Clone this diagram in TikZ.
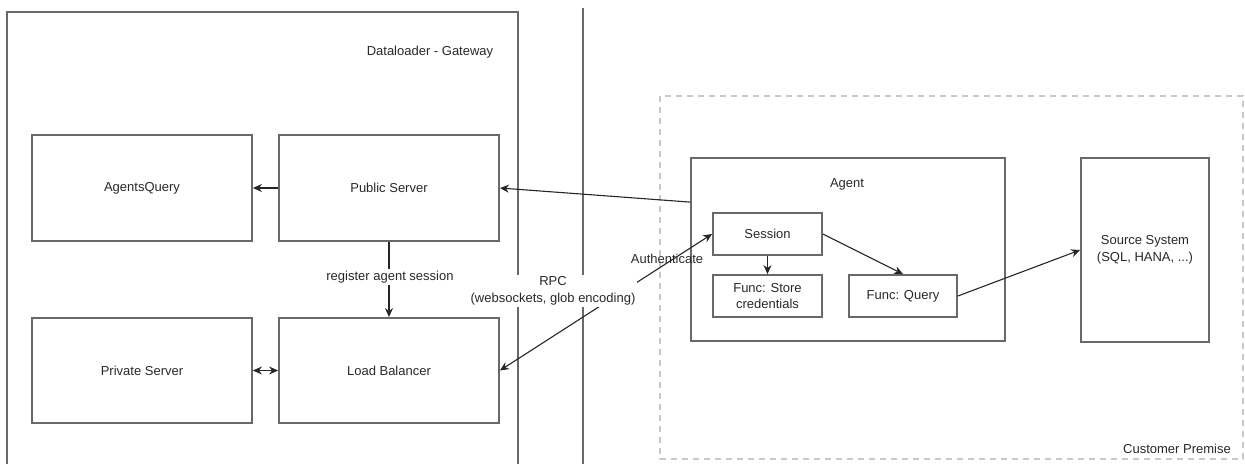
\documentclass[tikz,border=0pt]{standalone}
\usepackage{fontspec}
\setmainfont{Liberation Sans}
\usetikzlibrary{arrows.meta}
\definecolor{edgegray}{RGB}{105,105,105}
\definecolor{dashgray}{RGB}{200,200,200}
\definecolor{txtgray}{RGB}{40,40,40}

\begin{document}
\begin{tikzpicture}[x=1pt,y=-1pt,
  font=\fontsize{13}{17}\selectfont, text=txtgray,
  box/.style={draw=edgegray, line width=1.8pt, inner sep=0pt, align=center},
  arr/.style={-{Stealth[length=9pt,width=8pt]}, line width=1.1pt, black!85},
  dbl/.style={{Stealth[length=9pt,width=8pt]}-{Stealth[length=9pt,width=8pt]}, line width=1.1pt, black!85},
  lbl/.style={align=center, inner sep=1.5pt}]
\useasboundingbox (0,0) rectangle (1245,464);

% gateway frame, separator, customer side
\draw[edgegray, line width=1.8pt] (7,464) -- (7,12) -- (518,12) -- (518,464);
\draw[edgegray, line width=1.2pt] (583,8) -- (583,464);
\draw[dashgray, line width=1.5pt, dash pattern=on 6pt off 5pt] (660,96) rectangle (1243,459);
\node[lbl] (gwtitle) at (430,52) {Dataloader - Gateway};
\node[lbl] (premise) at (1177,449) {Customer Premise};

% gateway
\node[box, minimum width=220, minimum height=106] (aq) at (142,188) {AgentsQuery};
\node[box, minimum width=220, minimum height=106] (pub) at (389,188) {Public Server};
\node[box, minimum width=220, minimum height=105] (priv) at (142,370.5) {Private Server};
\node[box, minimum width=220, minimum height=105] (lb) at (389,370.5) {Load Balancer};

% agent
\node[box, minimum width=314, minimum height=183] (agent) at (848,249.5) {};
\node[lbl] (agenttitle) at (847,184) {Agent};
\node[box, minimum width=109, minimum height=42] (sess) at (767.5,234) {Session};
\node[box, minimum width=109, minimum height=42, font=\fontsize{13}{16}\selectfont] (store) at (767.5,296) {Func: Store\\credentials};
\node[box, minimum width=108, minimum height=42] (query) at (903,296) {Func: Query};
\node[box, minimum width=128, minimum height=184] (src) at (1145,250) {Source System\\(SQL, HANA, ...)};

\draw[arr] (pub.west) -- (aq.east);
\draw[arr] ([yshift=-45pt]agent.north west) -- (pub.east);
\draw[arr] (pub.south) -- (lb.north);
\node[lbl, fill=white] (reg) at (390,277) {register agent session};
\draw[dbl] (priv.east) -- (lb.west);
\draw[dbl] (lb.east) -- (sess.west);
\node[lbl, fill=white] (rpc) at (553,291) {RPC\\(websockets, glob encoding)};
\node[lbl] (auth) at (667,259) {Authenticate};
\draw[arr] (sess.south) -- (store.north);
\draw[arr] (sess.east) -- (query.north);
\draw[arr] (query.east) -- (src.west);
\end{tikzpicture}
\end{document}
